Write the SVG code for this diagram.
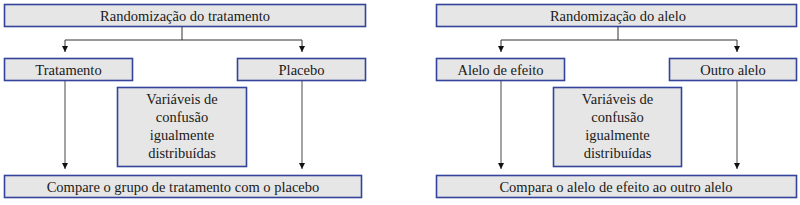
<svg xmlns="http://www.w3.org/2000/svg" width="800" height="205" viewBox="0 0 800 205">
<style>
.box{fill:#e6e6e6;stroke:#34449a;stroke-width:1.6}
text{font-family:'Liberation Serif','Times New Roman',Times,'DejaVu Serif',serif;font-size:14.5px;fill:#1a1a1a;text-anchor:middle}
.c{fill:none;stroke:#333;stroke-width:1}
.v{fill:none;stroke:#666;stroke-width:1.2}
</style>
<defs>
<marker id="ah" viewBox="0 0 6 6" refX="6" refY="3" markerWidth="6" markerHeight="6" markerUnits="userSpaceOnUse" orient="auto">
<path d="M0,0 L6,3 L0,6 z" fill="#111"/>
</marker>
</defs>
<rect width="800" height="205" fill="#fff"/>
<g id="connectors">
<path class="c" d="M182,27 V40 M65,40 H302"/>
<path class="c" d="M65,40 V52" marker-end="url(#ah)"/>
<path class="c" d="M302,40 V52" marker-end="url(#ah)"/>
<path class="v" d="M65,81 V169" marker-end="url(#ah)"/>
<path class="v" d="M302,81 V169" marker-end="url(#ah)"/>
<path class="c" d="M618,27 V40 M501,40 H737"/>
<path class="c" d="M501,40 V52" marker-end="url(#ah)"/>
<path class="c" d="M737,40 V52" marker-end="url(#ah)"/>
<path class="v" d="M501,81 V169" marker-end="url(#ah)"/>
<path class="v" d="M737,81 V169" marker-end="url(#ah)"/>
</g>
<g id="rand-trat"><rect class="box" x="4.5" y="4.5" width="361" height="22"/><text x="185" y="20.5">Randomização do tratamento</text></g>
<g id="tratamento"><rect class="box" x="4.5" y="58.5" width="128" height="22"/><text x="68.5" y="74.5">Tratamento</text></g>
<g id="placebo"><rect class="box" x="237.5" y="58.5" width="128" height="22"/><text x="301.5" y="74.5">Placebo</text></g>
<g id="conf-left"><rect class="box" x="117.5" y="87.5" width="129" height="79"/>
<text x="182" y="104">Variáveis de</text><text x="182" y="122">confusão</text><text x="182" y="140">igualmente</text><text x="182" y="158">distribuídas</text></g>
<g id="compare-left"><rect class="box" x="4.5" y="175.5" width="357" height="22"/><text x="183" y="191.5">Compare o grupo de tratamento com o placebo</text></g>
<g id="rand-alelo"><rect class="box" x="436.5" y="4.5" width="360" height="22"/><text x="618" y="20.5">Randomização do alelo</text></g>
<g id="alelo-efeito"><rect class="box" x="436.5" y="58.5" width="128" height="22"/><text x="500.5" y="74.5">Alelo de efeito</text></g>
<g id="outro-alelo"><rect class="box" x="669.5" y="58.5" width="127" height="22"/><text x="733" y="74.5">Outro alelo</text></g>
<g id="conf-right"><rect class="box" x="553.5" y="87.5" width="128" height="79"/>
<text x="617.5" y="104">Variáveis de</text><text x="617.5" y="122">confusão</text><text x="617.5" y="140">igualmente</text><text x="617.5" y="158">distribuídas</text></g>
<g id="compare-right"><rect class="box" x="436.5" y="175.5" width="360" height="22"/><text x="616" y="191.5">Compara o alelo de efeito ao outro alelo</text></g>
</svg>
